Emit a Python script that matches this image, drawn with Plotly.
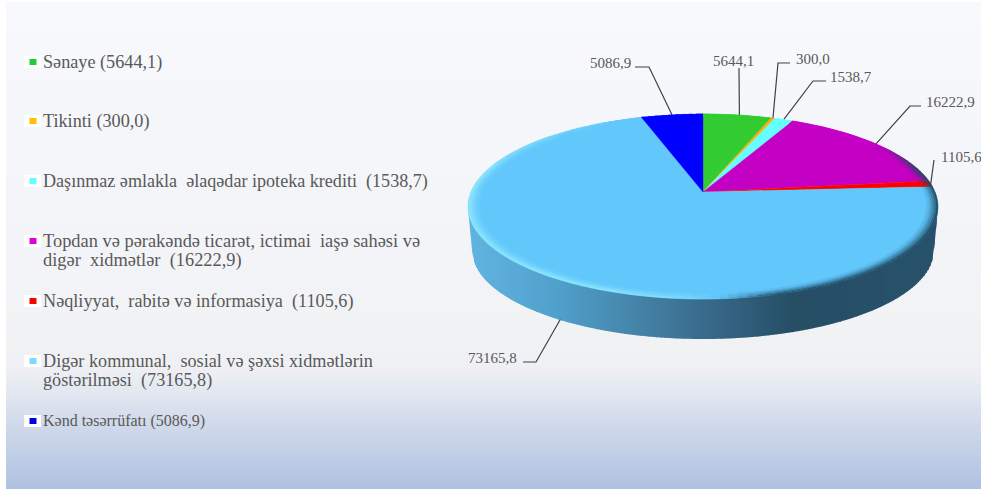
import math
import numpy as np
import plotly.graph_objects as go

# ---------- data ----------
categories = ["Sənaye", "Tikinti", "Daşınmaz əmlakla əlaqədar ipoteka krediti",
              "Topdan və pərakəndə ticarət, ictimai iaşə sahəsi və digər xidmətlər",
              "Nəqliyyat, rabitə və informasiya",
              "Digər kommunal, sosial və şəxsi xidmətlərin göstərilməsi",
              "Kənd təsərrüfatı"]
values = [5644.1, 300.0, 1538.7, 16222.9, 1105.6, 73165.8, 5086.9]
slice_colors = ["#33CC33", "#FFB000", "#66FFFF", "#C400C4", "#FF0000", "#62C8FC", "#0000FF"]
legend_colors = ["#22CC33", "#FFC000", "#66FFFF", "#E000D8", "#FF0000", "#7FD8FF", "#0000E0"]
legend_lines = [["Sənaye ({})"], ["Tikinti ({})"],
                ["Daşınmaz əmlakla\u00a0 əlaqədar ipoteka krediti\u00a0 ({})"],
                ["Topdan və pərakəndə ticarət, ictimai\u00a0 iaşə sahəsi və", "digər\u00a0 xidmətlər\u00a0 ({})"],
                ["Nəqliyyat,\u00a0 rabitə və informasiya\u00a0 ({})"],
                ["Digər kommunal,\u00a0 sosial və şəxsi xidmətlərin", "göstərilməsi\u00a0 ({})"],
                ["Kənd təsərrüfatı ({})"]]
legend_y = [62, 121, 181, 241, 301, 361, 421]
legend_size = [18.2, 18.2, 18.1, 18.4, 18.2, 18.2, 16]
# label anchor: text x, text y, text anchor, elbow points, nudge of leader end
label_x = [733, 794, 828, 924, 938.5, 519, 633]
label_y = [61, 59, 77, 102, 157, 358, 63]
label_anchor = ["center", "left", "left", "left", "left", "right", "right"]
leader_elbows = [[(739, 68)], [(790, 63), (778, 63)], [(826, 81), (813, 81)],
                 [(921, 106), (910, 106)], [(934, 160)], [(523, 362), (536, 362)],
                 [(635, 67), (649, 67)]]
leader_nudge = [(2, 0), (0, 0), (0, 0), (0, 0), (0, 0), (8, 0), (0, 0)]

# ---------- projection of the tilted disc ----------
CX, CY = 703.0, 192.0
A, B, K = 232.0, 90.2, 0.157


def project(clock_deg, s=1.0):
    t = np.radians(clock_deg)
    x, y = s * np.sin(t), s * np.cos(t)
    w = 1 + K * y
    return CX + A * x / w, CY - B * y / w


def hexrgb(c):
    return np.array([int(c[i:i + 2], 16) for i in (1, 3, 5)], float)


def mix(c1, c2, f):
    return hexrgb(c1) * (1 - f) + hexrgb(c2) * f


def css(rgb, q=1):
    r = [int(min(255, round(v / q) * q)) for v in rgb]
    return f"rgb({r[0]},{r[1]},{r[2]})"


total = sum(values)
edges = np.cumsum([0] + values) / total * 360.0
traces = []
shapes = []

# ---------- background ----------
bg_stops = [(2, "#F7F9FD"), (200, "#F4F5F9"), (340, "#F1F2F4"), (362, "#F0F1F5"), (385, "#E6EAF2"),
            (410, "#D8DFED"), (440, "#C7D3E8"), (489, "#AEC1E2")]
ys = np.arange(2, 489, 2)
for y in ys:
    for (y0, c0), (y1, c1) in zip(bg_stops, bg_stops[1:]):
        if y0 <= y <= y1:
            col = css(mix(c0, c1, (y - y0) / (y1 - y0)))
            break
    shapes.append(dict(type="rect", xref="x", yref="y", x0=6, x1=981, y0=float(y), y1=float(y + 2.5),
                       fillcolor=col, line_width=0, layer="below"))

# ---------- side wall ----------
LCX, LCY, LA, LB = 703.0, 250.0, 231.0, 89.0
wall_stops = [(468, "#62B4E0"), (560, "#4F9FCB"), (640, "#4482A6"), (720, "#356585"),
              (790, "#264F66"), (940, "#27506A")]


def low(v):
    d = (v - LCX) / LA
    if abs(d) >= 1:  # slanted silhouette from the top ellipse down to the lower one
        return 208 + (235 - abs(v - LCX)) / 4 * 42
    return LCY + LB * math.sqrt(1 - d * d)


xs = np.arange(468, 938, 2.0)
for x in xs:
    for (x0, c0), (x1, c1) in zip(wall_stops, wall_stops[1:]):
        if x0 <= x <= x1:
            col = css(mix(c0, c1, (x - x0) / (x1 - x0)))
            break
    xa, xb = x, min(x + 2.6, 938.0)
    traces.append(go.Scatter(x=[xa, xb, xb, xa], y=[205, 205, low(xb), low(xa)], mode="lines",
                             fill="toself", fillcolor=col, line=dict(width=0), hoverinfo="skip",
                             showlegend=False))

# ---------- leader lines ----------
for i, el in enumerate(leader_elbows):
    mid = (edges[i] + edges[i + 1]) / 2
    ex, ey = project(mid)
    if categories[i].startswith("Digər"):
        ey += 42  # reaches the outside of the wall
    ex += leader_nudge[i][0]
    ey += leader_nudge[i][1]
    px = [p[0] for p in el] + [ex]
    py = [p[1] for p in el] + [ey]
    traces.append(go.Scatter(x=px, y=py, mode="lines", line=dict(color="#404040", width=1.2),
                             hoverinfo="skip", showlegend=False))

# ---------- top face ----------
for i, c in enumerate(slice_colors):
    th = np.linspace(edges[i], edges[i + 1], max(3, int((edges[i + 1] - edges[i]) / 1.0)))
    px, py = project(th)
    traces.append(go.Scatter(x=[CX, *px, CX], y=[CY, *py, CY], mode="lines", fill="toself",
                             fillcolor=c, line=dict(width=0.4, color=c), name=categories[i],
                             hoverinfo="name", showlegend=False))

# ---------- bevel ring ----------
RINGS = 6
RIM = 0.048
buckets = {}
step = 2.0
for i, c in enumerate(slice_colors):
    n = max(1, int(round((edges[i + 1] - edges[i]) / step)))
    grid = np.linspace(edges[i], edges[i + 1], n + 1)
    for a0, a1 in zip(grid, grid[1:]):
        m = math.radians((a0 + a1) / 2)
        nx, ny = math.sin(m), math.cos(m)
        bright = float(np.clip(-nx * 1.2 - ny * 0.6, 0, 1))
        dark = float(np.clip((nx - 0.6 * ny - 0.5) / 0.45, 0, 1))
        net = bright - dark * 1.6
        net = float(np.clip(net, -1, 1))
        for r in range(RINGS):
            s1 = 1 - RIM * r / RINGS
            s0 = 1 - RIM * (r + 1) / RINGS
            f = (1 - r / RINGS) ** 1.3
            if net < 0:
                rgb = mix(c, "#1F4A62", min(1, -net * f * 0.95))
            else:
                rgb = mix(c, "#A8F4FF", min(1, net * f * 0.6))
            key = css(rgb, 6)
            p = [project(a0, s1), project(a1, s1), project(a1, s0), project(a0, s0), project(a0, s1)]
            b = buckets.setdefault(key, ([], []))
            b[0].extend([q[0] for q in p] + [None])
            b[1].extend([q[1] for q in p] + [None])
for key, (bx, by) in buckets.items():
    traces.append(go.Scatter(x=bx, y=by, mode="lines", fill="toself", fillcolor=key,
                             line=dict(width=0.5, color=key), hoverinfo="skip", showlegend=False))

# ---------- texts ----------
annotations = []
FONT = "Liberation Serif"
TXT = "#595959"


def fmt(v):
    return f"{v:.1f}".replace(".", ",")


for i, v in enumerate(values):
    annotations.append(dict(x=label_x[i], y=label_y[i], xref="x", yref="y", text=fmt(v), showarrow=False,
                            xanchor=label_anchor[i], yanchor="middle",
                            font=dict(family=FONT, size=15, color=TXT)))
    shapes.append(dict(type="rect", xref="x", yref="y", x0=24, x1=41, y0=legend_y[i] - 6, y1=legend_y[i] + 6,
                       fillcolor="#FFFFFF", line_width=0, layer="above"))
    shapes.append(dict(type="rect", xref="x", yref="y", x0=29.5, x1=36.5, y0=legend_y[i] - 3, y1=legend_y[i] + 3,
                       fillcolor=legend_colors[i], line_width=0, layer="above"))
    for j, line in enumerate(legend_lines[i]):
        annotations.append(dict(x=41, y=legend_y[i] + j * 19, xref="x", yref="y", text=line.format(fmt(v)),
                                showarrow=False, xanchor="left", yanchor="middle",
                                font=dict(family=FONT, size=legend_size[i], color=TXT)))

fig = go.Figure(traces)
fig.update_layout(width=981, height=489, margin=dict(l=0, r=0, t=0, b=0), autosize=False,
                  paper_bgcolor="#FFFFFF", plot_bgcolor="rgba(0,0,0,0)", showlegend=False,
                  shapes=shapes, annotations=annotations,
                  xaxis=dict(range=[0, 981], visible=False, fixedrange=True),
                  yaxis=dict(range=[489, 0], visible=False, fixedrange=True))
fig.write_html("out.html", config={"displayModeBar": False},
               post_script="document.body.style.margin='0';document.body.style.overflow='hidden';")
